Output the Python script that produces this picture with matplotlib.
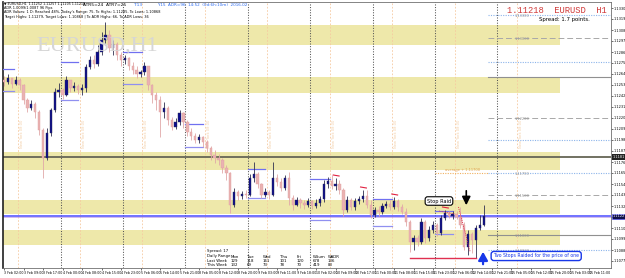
import numpy as np
import matplotlib.pyplot as plt
from matplotlib.ticker import MultipleLocator, FormatStrFormatter

OUTPUT_PATH = "out.png"

# EURUSD H1 candles (prices)
first_open = 1.1258
closes = [1.1256, 1.1260, 1.1254, 1.1258, 1.1253, 1.1238, 1.1230, 1.1234, 1.1226, 1.1208,
          1.1180, 1.1205, 1.1228, 1.1246, 1.1248, 1.1243, 1.1258, 1.1250, 1.1252, 1.1248,
          1.1250, 1.1271, 1.1278, 1.1274, 1.1286, 1.1298, 1.1303, 1.1290, 1.1294, 1.1283,
          1.1278, 1.1280, 1.1272, 1.1268, 1.1264, 1.1266, 1.1272, 1.1253, 1.1243, 1.1238,
          1.1226, 1.1230, 1.1218, 1.1211, 1.1216, 1.1225, 1.1216, 1.1206, 1.1202, 1.1198,
          1.1201, 1.1196, 1.1190, 1.1183, 1.1180, 1.1178, 1.1170, 1.1165, 1.1133, 1.1146,
          1.1142, 1.1144, 1.1143, 1.1160, 1.1164, 1.1154, 1.1143, 1.1146, 1.1143, 1.1160,
          1.1156, 1.1150, 1.1160, 1.1140, 1.1133, 1.1138, 1.1135, 1.1133, 1.1137, 1.1132,
          1.1135, 1.1139, 1.1154, 1.1157, 1.1152, 1.1154, 1.1148, 1.1128, 1.1138, 1.1131,
          1.1137, 1.1139, 1.1142, 1.1133, 1.1123, 1.1128, 1.1126, 1.1132, 1.1134, 1.1131,
          1.1137, 1.1131, 1.1126, 1.1116, 1.1096, 1.1100, 1.1096, 1.1116, 1.1100, 1.1108,
          1.1113, 1.1105, 1.1120, 1.1125, 1.1122, 1.1124, 1.1121, 1.1113, 1.1091, 1.1104,
          1.1098, 1.1110, 1.1113, 1.1122]
highs = [1.1262, 1.1264, 1.1259, 1.1262, 1.1260, 1.1254, 1.1240, 1.1238, 1.1236, 1.1228,
         1.1210, 1.1210, 1.1230, 1.1250, 1.1255, 1.1250, 1.1262, 1.1258, 1.1256, 1.1254,
         1.1254, 1.1274, 1.1282, 1.1283, 1.1293, 1.1306, 1.1316, 1.1308, 1.1298, 1.1296,
         1.1286, 1.1283, 1.1281, 1.1276, 1.1272, 1.1268, 1.1276, 1.1272, 1.1254, 1.1246,
         1.1242, 1.1236, 1.1232, 1.1221, 1.1220, 1.1228, 1.1226, 1.1218, 1.1210, 1.1205,
         1.1204, 1.1202, 1.1198, 1.1192, 1.1188, 1.1184, 1.1180, 1.1173, 1.1166, 1.1150,
         1.1148, 1.1147, 1.1148, 1.1164, 1.1176, 1.1166, 1.1155, 1.1150, 1.1148, 1.1176,
         1.1164, 1.1160, 1.1163, 1.1166, 1.1143, 1.1141, 1.1140, 1.1138, 1.1140, 1.1138,
         1.1139, 1.1142, 1.1158, 1.1161, 1.1163, 1.1160, 1.1158, 1.1150, 1.1142, 1.1140,
         1.1140, 1.1142, 1.1148, 1.1148, 1.1138, 1.1131, 1.1132, 1.1135, 1.1137, 1.1138,
         1.1141, 1.1139, 1.1134, 1.1130, 1.1118, 1.1103, 1.1103, 1.1120, 1.1118, 1.1112,
         1.1117, 1.1115, 1.1123, 1.1128, 1.1127, 1.1127, 1.1127, 1.1131, 1.1116, 1.1108,
         1.1106, 1.1113, 1.1123, 1.1133]
lows = [1.1252, 1.1254, 1.1250, 1.1253, 1.1248, 1.1234, 1.1226, 1.1228, 1.1220, 1.1203,
        1.1160, 1.1178, 1.1202, 1.1226, 1.1241, 1.1239, 1.1242, 1.1246, 1.1247, 1.1244,
        1.1243, 1.1246, 1.1269, 1.1270, 1.1272, 1.1283, 1.1293, 1.1286, 1.1283, 1.1278,
        1.1272, 1.1274, 1.1268, 1.1264, 1.1260, 1.1261, 1.1263, 1.1248, 1.1235, 1.1228,
        1.1201, 1.1220, 1.1213, 1.1208, 1.1209, 1.1213, 1.1210, 1.1202, 1.1198, 1.1195,
        1.1195, 1.1191, 1.1186, 1.1178, 1.1175, 1.1173, 1.1165, 1.1158, 1.1125, 1.1131,
        1.1138, 1.1139, 1.1140, 1.1142, 1.1156, 1.1150, 1.1140, 1.1141, 1.1139, 1.1142,
        1.1152, 1.1147, 1.1148, 1.1133, 1.1128, 1.1132, 1.1130, 1.1129, 1.1131, 1.1129,
        1.1130, 1.1132, 1.1136, 1.1150, 1.1149, 1.1148, 1.1144, 1.1122, 1.1126, 1.1128,
        1.1128, 1.1134, 1.1136, 1.1130, 1.1120, 1.1121, 1.1122, 1.1124, 1.1130, 1.1128,
        1.1129, 1.1127, 1.1124, 1.1112, 1.1086, 1.1088, 1.1092, 1.1094, 1.1095, 1.1097,
        1.1105, 1.1102, 1.1103, 1.1118, 1.1120, 1.1119, 1.1119, 1.1110, 1.1088, 1.1083,
        1.1085, 1.1080, 1.1108, 1.1112]

current_price = 1.11218
day_starts = [14.5, 30.5, 46.5, 62.5, 78.5, 94.5, 110.5, 126.5]
ny_opens = [3.5, 19.5, 35.5, 51.5, 67.5, 83.5, 99.5, 115.5, 131.5]
day_names = ["3 Feb", "4 Feb", "5 Feb", "8 Feb", "9 Feb", "10 Feb", "11 Feb", "12 Feb", "15 Feb"]

# supply / demand zones (low, high)
zones = [(1.1293, 1.1313), (1.1245, 1.1261), (1.1168, 1.1186), (1.1124, 1.1138), (1.1093, 1.1108)]
pivot_level = 1.1181
dashed_levels = [1.1300, 1.1220, 1.1143]
dotted_levels = [1.1323, 1.1276, 1.1198, 1.1165, 1.1088]
solid_levels = [1.1261, 1.1103]
level_names = {1.1300: "1.13000", 1.1220: "1.12200", 1.1143: "1.11500", 1.1323: "1.13300",
               1.1165: "1.11700", 1.1103: "1.11000", 1.1088: "1.10900"}

# opening range boxes per session: (start, end, high, low)
range_boxes = [(-0.3, 2.5, 1.1269, 1.1247), (14.5, 19, 1.1276, 1.1238), (30.5, 35.5, 1.1286, 1.1254),
               (46.5, 51, 1.1214, 1.1191), (62.5, 67, 1.1169, 1.1140), (78.5, 83.5, 1.1159, 1.1118),
               (94.5, 99.5, 1.1139, 1.1112), (110.5, 115, 1.1127, 1.1104)]
fractal_marks = [85, 92, 100, 113]

stats_rows = [["Daily Range", "Mon", "Tue", "Wed", "Thu", "Fri", "WSum", "WADR"],
              ["Last Week", "129", "118", "161", "101", "120", "678", "136"],
              ["This Week", "132", "69", "73", "78", "70", "419", "83"]]

W, H = 625, 278


def fx(x):
    return x / W


def fy(y):
    return 1 - y / H


def main():
    closes_a = np.array(closes)
    opens_a = np.r_[first_open, closes_a[:-1]]
    highs_a = np.maximum(np.array(highs), np.maximum(opens_a, closes_a))
    lows_a = np.minimum(np.array(lows), np.minimum(opens_a, closes_a))
    idx = np.arange(len(closes_a))
    bull = closes_a >= opens_a

    fig = plt.figure(figsize=(6.25, 2.78), dpi=100)
    ax = fig.add_axes([fx(3), 10 / H, 608 / W, 266 / H])
    ax.set_xlim(-0.26, 155.6)
    ax.set_ylim(1.1070, 1.1336)

    x_end = ax.get_xlim()[1]
    zone_end = 142.6
    for lo, hi in zones:
        ax.fill_between([-1, zone_end], lo, hi, color="palegoldenrod", lw=0, zorder=0)

    for d in day_starts:
        ax.axvline(d, color="#555555", ls=(0, (1, 1.5)), lw=0.75, zorder=1)
    for d in ny_opens:
        ax.axvline(d, color="#f6c9a0", ls=(0, (2, 2)), lw=0.6, zorder=1)
        ax.text(d + 0.5, 1.1204, "New York 08:00", rotation=90, fontsize=2.6,
                color="#f3cfa8", va="center", ha="left", zorder=1)

    # watermark
    fig.text(fx(36), fy(46), "EURUSD,H1", family="Liberation Serif", fontsize=16,
             color="#d6d6d6", va="center", ha="left", zorder=0)

    ax.axhline(pivot_level, color="#666655", lw=1.3, zorder=2)
    for lv in dashed_levels:
        ax.plot([124, x_end], [lv, lv], color="#a8a8a8", ls=(0, (6, 3)), lw=0.7, zorder=2)
    for lv in dotted_levels:
        ax.plot([124, x_end], [lv, lv], color="#8cb4ea", ls=(0, (1, 1.2)), lw=0.8, zorder=2)
    ax.plot([110.5, 124], [1.1165, 1.1165], color="#f0b060", ls=(0, (1, 1.2)), lw=0.8, zorder=2)
    ax.text(113, 1.1167, "average + 1.11700", fontsize=2.6, color="#e0a050", zorder=3)
    for lv in solid_levels:
        ax.plot([124, x_end], [lv, lv], color="#909090", lw=0.8, zorder=2)
    for lv, name in level_names.items():
        ax.text(131, lv - 0.00018, name, fontsize=2.6, color="#9a9a9a", zorder=3)

    for x0, x1, hi, lo in range_boxes:
        ax.plot([x0, x1], [hi, hi], color="#7070f0", lw=0.9, zorder=3)
        ax.plot([x0, x1], [lo, lo], color="#9090f0", lw=0.9, zorder=3)

    ax.axhline(current_price, color="#4a4aff", lw=1.1, zorder=2)
    ax.axhline(current_price - 0.00012, color="#c0a0e8", lw=0.5, zorder=2)

    # candles
    wick_col = np.where(bull, "#303050", "#e0a8a8")
    ax.vlines(idx, lows_a, highs_a, colors=wick_col, lw=0.6, zorder=4)
    body_lo = np.minimum(opens_a, closes_a)
    body_h = np.maximum(np.abs(closes_a - opens_a), 0.00004)
    ax.bar(idx[bull], body_h[bull], bottom=body_lo[bull], width=0.6,
           color="#0c0c8c", edgecolor="#303050", lw=0.3, zorder=5)
    ax.bar(idx[~bull], body_h[~bull], bottom=body_lo[~bull], width=0.6,
           color="#eab2b2", edgecolor="#e0a0a0", lw=0.3, zorder=5)

    for i in fractal_marks:
        ax.plot([i - 0.6, i + 0.9], [highs_a[i] + 0.0003, highs_a[i] + 0.0002],
                color="#e02040", lw=0.8, zorder=6)

    # stop raid annotation
    ax.plot([104, 121], [1.1080, 1.1080], color="#e03050", lw=1.0, zorder=6)
    ax.plot([116.5, 119.5], [highs_a[117], 1.1086], color="#e03050", ls=(0, (1, 1)),
            lw=0.7, zorder=6)
    ax.plot([111.5, 115.5], [1.1127, 1.1124], color="#e03050", ls=(0, (1, 1)), lw=0.6, zorder=6)
    ax.text(111.5, 1.1137, "Stop Raid", fontsize=3.6, ha="center", va="center", zorder=8,
            bbox=dict(boxstyle="round,pad=0.35,rounding_size=0.5", fc="white", ec="black", lw=0.8))
    ax.annotate("", xy=(118.5, 1.1130), xytext=(118.5, 1.1150),
                arrowprops=dict(arrowstyle="-|>,head_width=0.25,head_length=0.5",
                                color="black", lw=1.2), zorder=8)
    ax.annotate("", xy=(122.8, 1.1089), xytext=(122.8, 1.1071),
                arrowprops=dict(arrowstyle="-|>,head_width=0.28,head_length=0.5",
                                color="#1838e8", lw=1.6), zorder=8)
    ax.text(125.4, 1.1082, "Two Stops Raided for the price of one", fontsize=3.3, color="#1838e8",
            ha="left", va="center", zorder=8,
            bbox=dict(boxstyle="round,pad=0.45,rounding_size=0.6", fc="white", ec="#1838e8", lw=1.0))

    # daily range stats table
    col_x = [207, 231, 247, 263, 280, 297, 313, 328]
    fig.text(fx(207), fy(251), "Spread: 17", fontsize=2.8, va="center")
    for r, row in enumerate(stats_rows):
        for c, cell in enumerate(row):
            fig.text(fx(col_x[c]), fy(256.5 + 4.4 * r), cell, fontsize=2.8, va="center")

    # price axis on the right
    ax.yaxis.tick_right()
    ax.yaxis.set_major_locator(MultipleLocator(0.0011))
    ax.yaxis.set_major_formatter(FormatStrFormatter("%.4f"))
    ax.tick_params(axis="y", labelsize=2.5, length=1.2, width=0.4, pad=0.6)
    ax.text(1.0025, pivot_level, f"{pivot_level:.4f}", transform=ax.get_yaxis_transform(),
            fontsize=2.5, color="white", va="center", zorder=9,
            bbox=dict(boxstyle="square,pad=0.15", fc="#222222", ec="none"))
    ax.text(1.0025, current_price, f"{current_price:.4f}", transform=ax.get_yaxis_transform(),
            fontsize=2.5, color="white", va="center", zorder=9,
            bbox=dict(boxstyle="square,pad=0.15", fc="#10104a", ec="#4a4aff", lw=0.4))

    # time axis
    tick_pos = np.arange(0, 151, 5)
    tick_lab = []
    for t in tick_pos:
        k = int(np.searchsorted(day_starts, t))
        start = day_starts[k - 1] if k > 0 else day_starts[0] - 16
        hour = int((t - start) * 1.5) % 24
        tick_lab.append(f"{day_names[k]} {hour:02d}:00")
    ax.set_xticks(tick_pos)
    ax.set_xticklabels(tick_lab, ha="left")
    ax.tick_params(axis="x", labelsize=2.3, length=1.2, width=0.4, pad=0.8)
    for sp in ax.spines.values():
        sp.set_color("#707070")
        sp.set_linewidth(0.6)
    ax.spines["left"].set_color("#202020")
    ax.spines["left"].set_linewidth(1.2)

    # header texts
    hud = ["\u25bc EURUSD,H1  1.11252 1.11257 1.11205 1.11218",
           "ADR 1.0099/1.0087 96 Pips",
           "ADR Values: 1 D: Reached 48%, Today's Range: 75, To Highs: 1.11285, To Lows: 1.10868",
           "Target Highs: 1.11279, Target Lows: 1.10868 | To ADR Highs: 66, To ADR Lows: 36"]
    for k, line in enumerate(hud):
        fig.text(fx(4), fy(4 + 4.2 * k), line, fontsize=2.3 if k == 0 else 2.5, va="center")
    fig.text(fx(83), fy(4.5), "ATR5=24  ATR7=25", fontsize=3.2, va="center")
    fig.text(fx(133), fy(4.5), "T:13", fontsize=3.2, va="center", color="#2c6cf0")
    fig.text(fx(157), fy(4.5), "Y:15  ADR=96  14:52  (0d:6h:10m)  2016.02", fontsize=3.0,
             va="center", color="#2c6cf0")
    fig.text(fx(607), fy(10.5), "1.11218  EURUSD  H1", family="Liberation Mono", fontsize=6.3,
             color="#d03a3a", ha="right", va="center")
    fig.text(fx(590), fy(19), "Spread: 1.7 points.", fontsize=3.9, ha="right", va="center")

    fig.savefig(OUTPUT_PATH, dpi=100)
    print(f"Saved plot to {OUTPUT_PATH}")


if __name__ == "__main__":
    main()
